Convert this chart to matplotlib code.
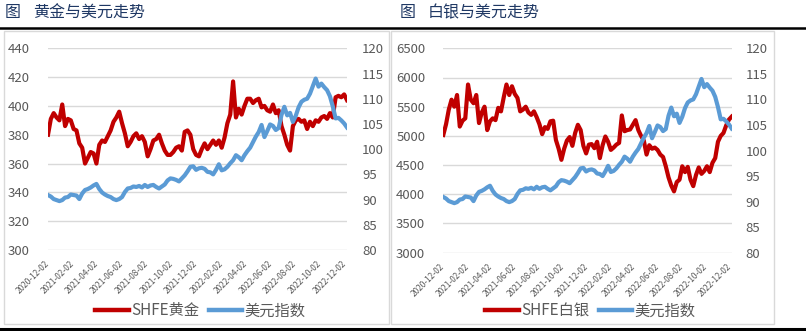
import pandas as pd
import numpy as np
import matplotlib
matplotlib.use("Agg")
import matplotlib.pyplot as plt
from matplotlib.lines import Line2D
from matplotlib.patches import Rectangle

plt.rcParams['font.family'] = ['Noto Sans CJK SC', 'DejaVu Sans']

# weekly closes, starting 2020-12-02
weeks = pd.date_range('2020-12-02', periods=106, freq='7D')

gold = [380, 391, 395, 392, 390, 401, 386, 391, 390, 384,
        383, 374, 371, 360, 364, 368, 367, 360, 373, 376,
        375, 379, 383, 389, 392, 396, 388, 381, 372, 375,
        379, 381, 377, 379, 375, 365, 370, 376, 377, 380,
        374, 369, 366, 366, 368, 371, 372, 369, 382, 383,
        380, 370, 366, 365, 370, 374, 370, 373, 376, 373,
        376, 371, 378, 388, 394, 417, 392, 398, 394, 400,
        405, 405, 402, 404, 405, 399, 400, 397, 396, 401,
        395, 397, 386, 380, 373, 369, 386, 390, 391, 389,
        390, 384, 389, 386, 390, 389, 392, 393, 391, 395,
        392, 406, 407, 406, 408, 404]

silver = [5016, 5200, 5450, 5620, 5500, 5700, 5160, 5260, 5300, 5880,
          5620, 5560, 5700, 5220, 5400, 5500, 5100, 5250, 5300, 5270,
          5480, 5420, 5660, 5880, 5700, 5850, 5720, 5650, 5420, 5450,
          5500, 5400, 5360, 5420, 5320, 5200, 5030, 5150, 5120, 5250,
          5260, 4930, 4780, 4590, 4780, 4920, 4980, 4830, 5050, 5190,
          5100, 4830, 4700, 4850, 4860, 4790, 4900, 4620, 4840, 4990,
          4900, 4760, 4800, 4850, 4880, 5350, 5080, 5100, 5110, 5190,
          5270, 5100, 5000, 4920, 4680, 4840, 4780, 4800, 4760, 4680,
          4640, 4480, 4290, 4150, 4050, 4210, 4250, 4480, 4380, 4470,
          4250, 4140, 4330, 4460, 4350, 4400, 4480, 4380, 4540, 4620,
          4900, 5000, 5050, 5180, 5280, 5330]

usd = [90.9, 90.6, 90.1, 89.9, 89.7, 89.9, 90.4, 90.5, 91.0, 90.9,
       90.8, 90.1, 91.2, 91.9, 92.1, 92.4, 92.8, 93.1, 92.1, 91.4,
       91.0, 90.7, 90.5, 90.1, 89.9, 90.1, 90.5, 91.5, 92.2, 92.3,
       92.6, 92.5, 92.7, 92.4, 92.9, 92.5, 92.8, 92.9, 92.5, 92.2,
       92.6, 93.0, 93.8, 94.2, 94.1, 93.9, 93.6, 94.2, 94.8, 95.6,
       96.5, 96.6, 95.9, 96.2, 96.3, 96.1, 95.5, 95.4, 95.0, 95.9,
       97.0, 95.8, 96.0, 96.5, 97.2, 97.8, 98.8, 98.4, 97.8, 98.8,
       99.6, 100.3, 101.4, 102.5, 103.4, 104.8, 102.4, 103.6, 104.9, 104.6,
       103.8, 104.2, 106.8, 108.4, 106.7, 107.2, 105.4, 106.6, 108.3, 109.4,
       109.8, 110.0, 111.0, 112.5, 114.0, 112.4, 113.0, 112.3, 111.7, 110.5,
       108.5, 106.1, 106.2, 105.7, 105.1, 104.3]

date_labels = ['2020-12-02', '2021-02-02', '2021-04-02', '2021-06-02',
               '2021-08-02', '2021-10-02', '2021-12-02', '2022-02-02',
               '2022-04-02', '2022-06-02', '2022-08-02', '2022-10-02',
               '2022-12-02']

RED = '#C00000'
BLUE = '#5B9BD5'
GRAY = '#595959'
NAVY = '#1F3864'
W, H = 806, 331


def fx(px):
    return px / W


def fy(py):
    return 1 - py / H


fig = plt.figure(figsize=(W / 100, H / 100), dpi=100)


def panel(box, metal, metal_name, ylim, ystep, rpads):
    x0, y0, x1, y1 = box
    ax = fig.add_axes([fx(x0), fy(y1), fx(x1 - x0), (y1 - y0) / H])
    ax.plot(weeks, metal, color=RED, lw=3.0, solid_joinstyle='round')
    ax.set_ylim(*ylim)
    ax.set_yticks(np.arange(ylim[0], ylim[1] + 1, ystep))
    ax.set_xlim(weeks[0], weeks[-1])
    ax.set_xticks(pd.to_datetime(date_labels))
    ax.set_xticklabels(date_labels, rotation=45, ha='right', va='center',
                       rotation_mode='anchor', fontsize=6, color=GRAY)
    ax.grid(axis='y', color='#D9D9D9', lw=1)
    ax.set_axisbelow(True)
    ax.tick_params(axis='y', length=0, pad=rpads[0], labelsize=9.5, labelcolor=GRAY)
    ax.tick_params(axis='x', length=0, pad=9)
    for s in ax.spines.values():
        s.set_visible(False)

    ax2 = ax.twinx()
    ax2.plot(weeks, usd, color=BLUE, lw=3.0, solid_joinstyle='round')
    ax2.set_ylim(80, 120)
    ax2.set_yticks(np.arange(80, 121, 5))
    ax2.tick_params(axis='y', length=0, pad=rpads[1], labelsize=9.5, labelcolor=GRAY)
    for s in ax2.spines.values():
        s.set_visible(False)

    handles = [Line2D([], [], color=RED, lw=3.2), Line2D([], [], color=BLUE, lw=3.2)]
    fig.legend(handles, [metal_name, '美元指数'], loc='center',
               bbox_to_anchor=(fx((x0 + x1) / 2 + 3), fy(311)), ncol=2,
               frameon=False, fontsize=11, labelcolor=GRAY,
               handlelength=2.2, handletextpad=0.15, columnspacing=0.6)
    return ax


panel((48, 48.3, 347, 250), gold, 'SHFE黄金', (300, 440), 20, (13, 11))
panel((443.3, 48.3, 731.7, 252.7), silver, 'SHFE白银', (3000, 6500), 500, (13, 10))

# headers
fig.text(fx(5), fy(13), '图', fontsize=11.5, color=NAVY, va='center')
fig.text(fx(33), fy(13), '黄金与美元走势', fontsize=11.5, color=NAVY, va='center')
fig.text(fx(400), fy(13), '图', fontsize=11.5, color=NAVY, va='center')
fig.text(fx(428), fy(13), '白银与美元走势', fontsize=11.5, color=NAVY, va='center')

# frames and rules
for bx0, bx1 in [(4, 389), (391, 774)]:
    fig.add_artist(Rectangle((fx(bx0), fy(324)), fx(bx1 - bx0), (324 - 31) / H,
                             transform=fig.transFigure, fill=False,
                             edgecolor='#D9D9D9', lw=1))
fig.add_artist(Line2D([0, 1], [fy(28.3)] * 2, color='black', lw=1.8))
fig.add_artist(Line2D([0, 1], [fy(329)] * 2, color='black', lw=2.2))

fig.savefig('out.png', dpi=100)
